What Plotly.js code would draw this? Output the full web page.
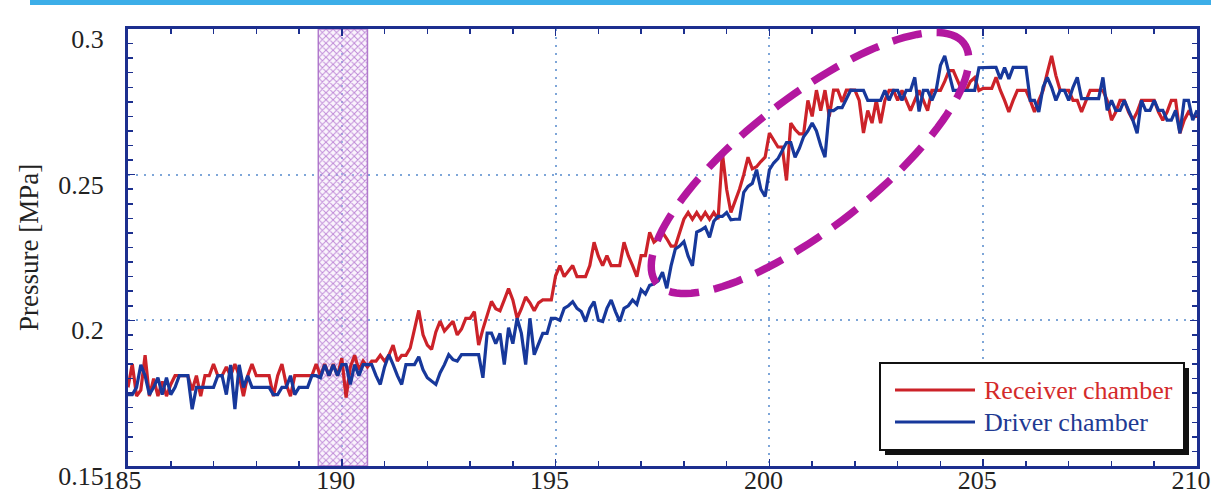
<!DOCTYPE html>
<html><head><meta charset="utf-8">
<script src="https://cdn.plot.ly/plotly-3.0.1.min.js"></script>
<style>body{margin:0;background:#fff;overflow:hidden}</style>
</head><body>
<div id="chart" style="width:1211px;height:496px"></div>
<script>
// ---- data ----
const tStart = 185, tStep = 0.1;   // sampling grid of the record
const seriesNames = ['Receiver chamber', 'Driver chamber'];
const receiver = [
0.177,0.185,0.174,0.176,0.188,0.174,0.180,0.174,0.179,0.174,
0.178,0.181,0.181,0.181,0.181,0.176,0.181,0.174,0.181,0.181,
0.185,0.181,0.181,0.184,0.181,0.185,0.181,0.174,0.181,0.185,
0.181,0.181,0.181,0.181,0.174,0.181,0.185,0.178,0.174,0.181,
0.181,0.181,0.181,0.181,0.185,0.181,0.185,0.181,0.185,0.181,
0.187,0.1735,0.184,0.188,0.183,0.186,0.184,0.186,0.186,0.188,
0.186,0.188,0.1915,0.186,0.188,0.188,0.1905,0.197,0.2034,0.195,
0.1915,0.19,0.196,0.1997,0.1963,0.198,0.1997,0.195,0.197,0.2007,
0.2007,0.203,0.1915,0.197,0.202,0.2065,0.204,0.2033,0.207,0.2109,
0.207,0.2007,0.204,0.208,0.206,0.2033,0.206,0.207,0.207,0.207,
0.2153,0.2188,0.215,0.2167,0.2188,0.215,0.215,0.215,0.2188,0.2268,
0.222,0.2188,0.2222,0.2188,0.2188,0.2188,0.2268,0.2222,0.2188,0.215,
0.2222,0.2222,0.2302,0.2268,0.228,0.2302,0.228,0.2255,0.2255,0.230,
0.2347,0.237,0.2347,0.237,0.2347,0.237,0.2347,0.237,0.2347,0.2575,
0.245,0.237,0.241,0.245,0.25,0.256,0.252,0.2527,0.2545,0.256,
0.2643,0.262,0.2595,0.2595,0.248,0.2677,0.2655,0.264,0.264,0.2755,
0.27,0.279,0.272,0.279,0.27,0.279,0.279,0.275,0.279,0.279,
0.279,0.2755,0.2643,0.272,0.2677,0.2755,0.2677,0.2755,0.2789,0.2789,
0.2755,0.2789,0.2755,0.272,0.2755,0.2789,0.2755,0.272,0.2789,0.2789,
0.2789,0.282,0.2857,0.2857,0.282,0.2789,0.2789,0.282,0.2833,0.2789,
0.2796,0.2796,0.2796,0.2834,0.279,0.2755,0.2715,0.2755,0.2789,0.2789,
0.2789,0.2755,0.2715,0.2755,0.2789,0.285,0.2908,0.284,0.2789,0.2789,
0.2789,0.2755,0.2755,0.2715,0.2755,0.2789,0.2789,0.2789,0.2789,0.2755,
0.2687,0.2715,0.2755,0.2755,0.2715,0.2687,0.2715,0.2755,0.2755,0.2755,
0.2755,0.2715,0.2687,0.2715,0.2755,0.2755,0.2642,0.2687,0.2715,0.27,
0.27];
const driver = [
0.1745,0.1745,0.177,0.1847,0.181,0.1745,0.177,0.1803,0.1745,0.1803,
0.1745,0.177,0.181,0.181,0.181,0.1695,0.177,0.177,0.177,0.177,
0.177,0.181,0.181,0.1745,0.1847,0.1695,0.1847,0.177,0.181,0.177,
0.177,0.177,0.177,0.177,0.1745,0.1745,0.177,0.177,0.181,0.1745,
0.177,0.177,0.177,0.181,0.181,0.1803,0.1847,0.181,0.1847,0.181,
0.1848,0.1848,0.178,0.1848,0.181,0.1848,0.1848,0.1848,0.181,0.178,
0.184,0.1882,0.1848,0.181,0.178,0.1848,0.1848,0.1848,0.1875,0.183,
0.1803,0.179,0.178,0.182,0.1848,0.1882,0.1865,0.186,0.1882,0.1882,
0.1882,0.1882,0.1882,0.1803,0.1956,0.1956,0.192,0.1955,0.1848,0.1975,
0.192,0.2007,0.1955,0.1848,0.2007,0.1882,0.192,0.1955,0.1955,0.2007,
0.2007,0.2,0.2041,0.205,0.2064,0.2041,0.203,0.1996,0.2041,0.2064,
0.2,0.1996,0.2041,0.207,0.203,0.1996,0.2041,0.205,0.207,0.2055,
0.2105,0.209,0.212,0.2125,0.2135,0.2165,0.211,0.2187,0.2245,0.2255,
0.227,0.222,0.2187,0.2303,0.231,0.232,0.2285,0.234,0.2357,0.2357,
0.237,0.2345,0.2347,0.2347,0.2439,0.246,0.247,0.2517,0.245,0.2425,
0.2517,0.254,0.2555,0.2585,0.261,0.261,0.256,0.259,0.263,0.265,
0.2677,0.265,0.26,0.256,0.272,0.272,0.273,0.273,0.276,0.279,
0.2789,0.2789,0.2789,0.2755,0.2755,0.2755,0.2755,0.2789,0.2755,0.2789,
0.2789,0.2755,0.2789,0.2789,0.2834,0.2717,0.2789,0.2789,0.2755,0.279,
0.2875,0.2908,0.2845,0.2789,0.2789,0.2789,0.2789,0.2789,0.2789,0.2867,
0.2868,0.2868,0.2868,0.2868,0.2829,0.2868,0.2829,0.2868,0.2868,0.2868,
0.2868,0.2755,0.2755,0.2715,0.28,0.2834,0.28,0.2755,0.2789,0.2789,
0.2755,0.28,0.2834,0.2761,0.2761,0.2761,0.2761,0.2761,0.2834,0.2721,
0.2755,0.2721,0.2721,0.2755,0.2721,0.2687,0.2642,0.2755,0.2721,0.2721,
0.2755,0.2721,0.2721,0.2687,0.2687,0.2721,0.2642,0.2755,0.2755,0.2687,
0.2721];
const xTickVals = [185,190,195,200,205,210];
const xTickText = ['185','190','195','200','205','210'];
const yTickVals = [0.15,0.2,0.25,0.3];
const yTickText = ['0.15','0.2','0.25','0.3'];
const band = [189.45, 190.6];                 // hatched time window
const ellipseCenter = [200.95, 0.254];        // highlighted region (data coords)

// ---- layout constants ----
const W = 1211, H = 496, M = {l:128, r:14, t:29, b:30};
const pw = W - M.l - M.r, ph = H - M.t - M.b;
const xRange = [185, 210], yRange = [0.15, 0.3];
const font = 'Liberation Serif, Times New Roman, serif';
const RED = '#cc2229', BLUE = '#17389b', NAVY = '#1c2f8f';

const time = receiver.map((_, i) => +(tStart + i * tStep).toFixed(2));

const px2paperX = px => (px - M.l) / pw;
const py2paperY = py => (H - M.b - py) / ph;

// ellipse path in paper coords
const cxp = (ellipseCenter[0] - xRange[0]) / (xRange[1] - xRange[0]);
const cyp = (ellipseCenter[1] - yRange[0]) / (yRange[1] - yRange[0]);
const ea = 195, eb = 65, phi = 38 * Math.PI / 180;
let ep = '';
for (let k = 0; k <= 120; k++) {
  const th = 2 * Math.PI * k / 120;
  const dx = ea * Math.cos(th) * Math.cos(phi) - eb * Math.sin(th) * Math.sin(phi);
  const dy = ea * Math.cos(th) * Math.sin(phi) + eb * Math.sin(th) * Math.cos(phi);
  ep += (k ? 'L' : 'M') + (cxp + dx / pw).toFixed(5) + ',' + (cyp + dy / ph).toFixed(5);
}
ep += 'Z';

const traces = [
  {type:'bar', x:[(band[0]+band[1])/2], y:[yRange[1]-yRange[0]], base:[yRange[0]],
   width:[band[1]-band[0]], showlegend:false, hoverinfo:'skip',
   marker:{color:'rgba(232,200,240,0.45)',
     line:{color:'rgba(170,110,200,0.9)', width:1.5},
     pattern:{shape:'x', fgcolor:'rgba(175,110,205,0.8)', bgcolor:'rgba(240,220,245,0.3)', size:5, solidity:0.35}}},
  {type:'scatter', mode:'lines', x:time, y:receiver, name:seriesNames[0], showlegend:false,
   line:{color:RED, width:3.2}},
  {type:'scatter', mode:'lines', x:time, y:driver, name:seriesNames[1], showlegend:false,
   line:{color:BLUE, width:3.2}}
];

const lgX0 = 880, lgX1 = 1184, lgY0 = 363, lgY1 = 450;
const shapes = [
  // top blue banner
  {type:'rect', xref:'paper', yref:'paper', x0:px2paperX(30), x1:px2paperX(1211),
   y0:py2paperY(5), y1:py2paperY(0), fillcolor:'#3caee8', line:{width:0}},
  // highlight ellipse
  {type:'path', xref:'paper', yref:'paper', path:ep,
   line:{color:'#b3179f', width:7.5, dash:'30px,15px'}},
  // legend shadow and box
  {type:'rect', xref:'paper', yref:'paper', x0:px2paperX(lgX0+5), x1:px2paperX(lgX1+5),
   y0:py2paperY(lgY1+5), y1:py2paperY(lgY0+5), fillcolor:'#111', line:{width:0}},
  {type:'rect', xref:'paper', yref:'paper', x0:px2paperX(lgX0), x1:px2paperX(lgX1),
   y0:py2paperY(lgY1), y1:py2paperY(lgY0), fillcolor:'#fff', line:{color:'#111', width:2}},
  {type:'line', xref:'paper', yref:'paper', x0:px2paperX(895), x1:px2paperX(975),
   y0:py2paperY(390), y1:py2paperY(390), line:{color:RED, width:3}},
  {type:'line', xref:'paper', yref:'paper', x0:px2paperX(895), x1:px2paperX(975),
   y0:py2paperY(422), y1:py2paperY(422), line:{color:BLUE, width:3}}
];

const annotations = [
  {xref:'paper', yref:'paper', x:px2paperX(982), y:py2paperY(390), xanchor:'left', yanchor:'middle',
   text:seriesNames[0], showarrow:false, font:{family:font, size:26, color:'#d42a2a'}},
  {xref:'paper', yref:'paper', x:px2paperX(982), y:py2paperY(422), xanchor:'left', yanchor:'middle',
   text:seriesNames[1], showarrow:false, font:{family:font, size:26, color:'#1f3a93'}},
  {xref:'paper', yref:'paper', x:px2paperX(29), y:py2paperY(248), xanchor:'center', yanchor:'middle',
   text:'Pressure [MPa]', textangle:-90, showarrow:false, font:{family:font, size:27, color:'#222'}}
];

const axisCommon = {
  showline:true, linecolor:NAVY, linewidth:3, mirror:'allticks',
  ticks:'inside', ticklen:7, tickwidth:1.5, tickcolor:NAVY,
  showgrid:true, gridcolor:'#7ea6d8', gridwidth:2, griddash:'2px,6px',
  zeroline:false, tickfont:{family:font, size:26, color:'#222'}, fixedrange:true,
  ticklabeloverflow:'allow'
};

const layout = {
  width:W, height:H, margin:M, paper_bgcolor:'#fff', plot_bgcolor:'#fff',
  showlegend:false, barmode:'overlay',
  xaxis:Object.assign({}, axisCommon, {range:xRange, tickvals:xTickVals, ticktext:xTickText,
    ticklabelshift:-6, ticklabelstandoff:-11,
    minor:{dtick:1, ticks:'inside', ticklen:5, tickwidth:1.5, tickcolor:NAVY, showgrid:false}}),
  yaxis:Object.assign({}, axisCommon, {range:yRange, tickvals:yTickVals, ticktext:yTickText,
    ticklabelshift:10, ticklabelstandoff:16,
    minor:{dtick:0.005, tick0:0.15, ticks:'inside', ticklen:5, tickwidth:1.5, tickcolor:NAVY, showgrid:false}}),
  shapes:shapes, annotations:annotations
};

Plotly.newPlot('chart', traces, layout, {displayModeBar:false, staticPlot:true});
</script>
</body></html>
